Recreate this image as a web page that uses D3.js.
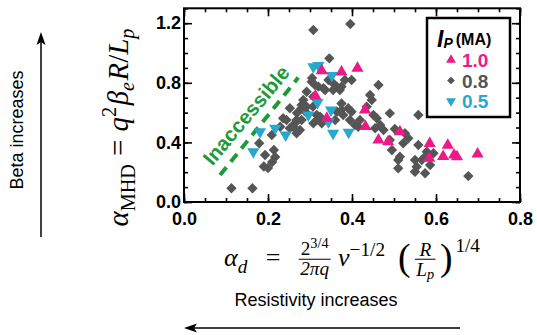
<!DOCTYPE html>
<html><head><meta charset="utf-8">
<script src="https://cdn.jsdelivr.net/npm/d3@7"></script>
<style>body{margin:0;background:#fff}svg{display:block}</style>
</head><body>
<svg id="c" width="537" height="335"></svg>
<script>
// ---------- data ----------
const xTickVals = [0.0, 0.2, 0.4, 0.6, 0.8];
const yTickVals = [0.0, 0.4, 0.8, 1.2];
const seriesNames = ["1.0", "0.8", "0.5"];
const ip10 = [[0.328,0.881],[0.375,0.872],[0.413,0.897],[0.313,0.711],[0.340,0.562],[0.431,0.617],[0.432,0.507],[0.463,0.416],[0.486,0.405],[0.514,0.472],[0.585,0.393],[0.584,0.293],[0.628,0.381],[0.617,0.305],[0.643,0.315],[0.650,0.304],[0.699,0.322]];
const ip05 = [[0.165,0.338],[0.181,0.472],[0.217,0.495],[0.242,0.450],[0.296,0.584],[0.308,0.908],[0.320,0.916],[0.318,0.668],[0.352,0.849],[0.350,0.617],[0.344,0.539],[0.355,0.461],[0.392,0.468]];
const ip08 = [[0.113,0.092],[0.163,0.092],
[0.179,0.394],[0.214,0.349],[0.193,0.315],[0.217,0.302],[0.210,0.268],[0.190,0.238],[0.200,0.228],
[0.209,0.450],[0.229,0.505],[0.236,0.562],[0.252,0.629],[0.260,0.505],[0.268,0.550],[0.244,0.550],[0.280,0.629],[0.284,0.685],[0.292,0.740],[0.276,0.483],[0.268,0.461],[0.252,0.495],[0.264,0.528],[0.280,0.550],[0.289,0.606],[0.269,0.597],
[0.304,0.807],[0.305,0.832],[0.312,0.785],[0.308,0.707],[0.280,0.651],[0.292,0.640],[0.307,0.640],[0.316,0.584],[0.316,0.550],[0.324,0.572],[0.308,0.528],[0.328,0.528],[0.320,0.774],[0.336,0.752],[0.344,0.819],[0.355,0.797],[0.332,0.763],[0.355,0.752],[0.364,0.774],[0.375,0.774],[0.371,0.752],[0.383,0.819],[0.399,0.819],[0.346,0.964],[0.308,1.154],[0.396,1.195],[0.364,0.606],[0.375,0.617],[0.399,0.606],[0.395,0.550],[0.360,0.550],[0.375,0.661],[0.391,0.629],[0.379,0.584],[0.407,0.517],
[0.463,0.785],[0.443,0.718],[0.447,0.685],[0.435,0.640],[0.419,0.550],[0.415,0.505],[0.451,0.584],[0.459,0.562],[0.467,0.517],[0.455,0.495],[0.475,0.483],[0.490,0.595],[0.558,0.584],[0.502,0.490],[0.526,0.461],[0.534,0.428],[0.522,0.394],[0.490,0.416],[0.495,0.349],[0.558,0.383],[0.578,0.338],[0.594,0.327],[0.574,0.304],[0.550,0.282],[0.566,0.282],[0.554,0.237],[0.510,0.282],[0.514,0.304],[0.510,0.226],[0.574,0.193],[0.586,0.248],[0.550,0.203],[0.677,0.174]];
const boundary = [[0.086,0.181],[0.272,0.835]];

// ---------- setup ----------
const PINK = "#ec1a86", GREY = "#555555", CYAN = "#27a8cc", GREEN = "#1f9a3a";
const svg = d3.select("#c");
const x = d3.scaleLinear([0, 0.8], [184, 520]);
const y = d3.scaleLinear([0, 1.3], [202, 8.3]);
const sans = "'Liberation Sans', Arial, Helvetica, sans-serif";
const serif = "'Liberation Serif', 'DejaVu Serif', serif";

// axes / ticks
const fmt = d3.format(".1f");
const xMinor = d3.range(0, 0.8001, 0.05), yMinor = d3.range(0, 1.3001, 0.1);
function styleAxis(g){ g.select(".domain").remove(); g.selectAll("line").attr("stroke","#000").attr("stroke-width",1.6); }
svg.append("g").attr("transform","translate(0,202)")
  .call(d3.axisBottom(x).tickValues(xMinor).tickSize(-4).tickFormat("")).call(styleAxis);
svg.append("g").attr("transform","translate(0,8.3)")
  .call(d3.axisTop(x).tickValues(xMinor).tickSize(-4).tickFormat("")).call(styleAxis);
svg.append("g").attr("transform","translate(184,0)")
  .call(d3.axisLeft(y).tickValues(yMinor).tickSize(-4).tickFormat("")).call(styleAxis);
svg.append("g").attr("transform","translate(520,0)")
  .call(d3.axisRight(y).tickValues(yMinor).tickSize(-4).tickFormat("")).call(styleAxis);
const xa = svg.append("g").attr("transform","translate(0,202)")
  .call(d3.axisBottom(x).tickValues(xTickVals).tickSize(-8).tickPadding(10).tickFormat(fmt)).call(styleAxis);
svg.append("g").attr("transform","translate(0,8.3)")
  .call(d3.axisTop(x).tickValues(xTickVals).tickSize(-8).tickFormat("")).call(styleAxis);
const ya = svg.append("g").attr("transform","translate(184,0)")
  .call(d3.axisLeft(y).tickValues(yTickVals).tickSize(-8).tickPadding(3).tickFormat(fmt)).call(styleAxis);
svg.append("g").attr("transform","translate(520,0)")
  .call(d3.axisRight(y).tickValues(yTickVals).tickSize(-8).tickFormat("")).call(styleAxis);
[xa, ya].forEach(a => a.selectAll("text").attr("font-family", sans).attr("font-weight","bold").attr("font-size",18).attr("fill","#000"));

svg.append("rect").attr("x",x(0)).attr("y",y(1.3)).attr("width",x(0.8)-x(0)).attr("height",y(0)-y(1.3))
  .attr("fill","none").attr("stroke","#000").attr("stroke-width",2);

// boundary annotation
svg.append("line").attr("x1",x(boundary[0][0])).attr("y1",y(boundary[0][1]))
  .attr("x2",x(boundary[1][0])).attr("y2",y(boundary[1][1]))
  .attr("stroke",GREEN).attr("stroke-width",4).attr("stroke-dasharray","10,7");
svg.append("text").attr("transform","translate(246,115) rotate(-50)")
  .attr("text-anchor","middle").attr("dominant-baseline","central")
  .attr("font-family",sans).attr("font-weight","bold").attr("font-size",20.5).attr("fill",GREEN)
  .text("Inaccessible");

// markers
const diamond = d3.symbol(d3.symbolSquare, 54);
const tri = d3.symbol(d3.symbolTriangle, 64);
svg.append("g").selectAll("path").data(ip08).join("path")
  .attr("d", diamond).attr("transform", d => `translate(${x(d[0])},${y(d[1])}) rotate(45)`).attr("fill", GREY);
svg.append("g").selectAll("path").data(ip05).join("path")
  .attr("d", tri).attr("transform", d => `translate(${x(d[0])},${y(d[1])}) rotate(180)`).attr("fill", CYAN);
svg.append("g").selectAll("path").data(ip10).join("path")
  .attr("d", tri).attr("transform", d => `translate(${x(d[0])},${y(d[1])})`).attr("fill", PINK);

// legend
const lg = svg.append("g");
lg.append("rect").attr("x",427).attr("y",18).attr("width",83).attr("height",99)
  .attr("fill","#fff").attr("stroke","#000").attr("stroke-width",2.5);
const lt = lg.append("text").attr("x",437).attr("y",47).attr("font-family",sans).attr("font-weight","bold");
lt.append("tspan").attr("font-size",23).attr("font-style","italic").text("I");
lt.append("tspan").attr("font-size",14).attr("font-style","italic").attr("dy",1).text("P");
lt.append("tspan").attr("font-size",16).attr("dx",3).attr("dy",-3).text("(MA)");
const legItems = [
  {name: seriesNames[0], color: PINK, sym: d3.symbol(d3.symbolTriangle, 42), rot: 0},
  {name: seriesNames[1], color: GREY, sym: d3.symbol(d3.symbolSquare, 30), rot: 45},
  {name: seriesNames[2], color: CYAN, sym: d3.symbol(d3.symbolTriangle, 42), rot: 180}];
legItems.forEach((it, i) => {
  const cy = 60 + i*20.5;
  lg.append("path").attr("d", it.sym).attr("transform", `translate(451,${cy}) rotate(${it.rot})`).attr("fill", it.color);
  lg.append("text").attr("x",462).attr("y",cy+7).attr("font-family",sans).attr("font-weight","bold")
    .attr("font-size",19).attr("fill",it.color).text(it.name);
});

// ---------- math helpers ----------
function put(g, px, py, s, size, it){
  const t = g.append("text").attr("x",px).attr("y",py).attr("font-family",serif).attr("font-size",size)
    .attr("font-style", it ? "italic" : "normal").attr("fill","#000").text(s);
  return t.node().getComputedTextLength();
}
function measure(s, size, it){ const g = svg.append("g"); const w = put(g,0,0,s,size,it); g.remove(); return w; }

// y-axis math label: laid out along the text direction, then rotated
function buildYLabel(FY){
  const g = svg.append("g");
  let c = 0;
  c += put(g, c, 0, "α", FY, 1);
  c += put(g, c, 0.25*FY, "MHD", 0.7*FY, 0) + 0.28*FY;
  c += put(g, c, 0, "=", FY, 0) + 0.28*FY;
  c += put(g, c, 0, "q", FY, 1);
  c += put(g, c, -0.42*FY, "2", 0.7*FY, 0) + 0.05*FY;
  c += put(g, c, 0, "β", FY, 1);
  c += put(g, c, 0.22*FY, "e", 0.7*FY, 1) + 0.05*FY;
  c += put(g, c, 0, "R", FY, 1);
  c += put(g, c, 0, "/", FY, 0);
  c += put(g, c, 0, "L", FY, 1);
  c += put(g, c, 0.22*FY, "p", 0.7*FY, 1);
  return [g, c];
}
{
  let [g, w] = buildYLabel(24);
  g.remove();
  const FY = 24*198/w;
  [g, w] = buildYLabel(FY);
  g.attr("transform", `translate(128,${127.5 + w/2}) rotate(-90)`);
}

// x-axis math label
{
  const F = 26, S = 0.74;
  const xl = svg.append("g");
  const wA = measure("α",F,1), wd = measure("d",S*F,1), wEq = measure("=",F,0);
  const w2 = measure("2",S*F,0), w34 = measure("3/4",0.55*F,0), wDen = measure("2πq",S*F,1);
  const fw1 = Math.max(w2+w34, wDen) + 0.12*F;
  const wNu = measure("ν",F,1), wM12 = measure("−1/2",S*F,0);
  const PS = 1.45*F;
  const wPar = measure("(",PS,0);
  const wR = measure("R",S*F,1), wL = measure("L",S*F,1), wp = measure("p",0.55*F,1);
  const fw2 = Math.max(wR, wL+wp) + 0.1*F;
  const w14 = measure("1/4",S*F,0);
  const base = wA+wd+wEq+fw1+wNu+wM12+2*wPar+fw2+w14;
  const weights = [1.0,1.0,0.4,0.7,0.25,0.25,0.15];
  const extra = Math.max(0, (256 - base) / weights.reduce((a,b)=>a+b,0));
  const gp = weights.map(k => k*extra);
  let cx = 0;
  put(xl, cx, 0, "α", F, 1); cx += wA;
  put(xl, cx, 0.25*F, "d", S*F, 1); cx += wd + gp[0];
  put(xl, cx, 0, "=", F, 0); cx += wEq + gp[1];
  put(xl, cx + (fw1-w2-w34)/2, -0.42*F, "2", S*F, 0);
  put(xl, cx + (fw1-w2-w34)/2 + w2, -0.68*F, "3/4", 0.55*F, 0);
  put(xl, cx + (fw1-wDen)/2, 0.36*F, "2πq", S*F, 1);
  xl.append("line").attr("x1",cx).attr("x2",cx+fw1).attr("y1",-0.26*F).attr("y2",-0.26*F).attr("stroke","#000").attr("stroke-width",1);
  cx += fw1 + gp[2];
  put(xl, cx, 0, "ν", F, 1); cx += wNu;
  put(xl, cx, -0.38*F, "−1/2", S*F, 0); cx += wM12 + gp[3];
  put(xl, cx, 0.17*F, "(", PS, 0); cx += wPar + gp[4];
  put(xl, cx + (fw2-wR)/2, -0.4*F, "R", S*F, 1);
  put(xl, cx + (fw2-wL-wp)/2, 0.38*F, "L", S*F, 1);
  put(xl, cx + (fw2-wL-wp)/2 + wL, 0.5*F, "p", 0.55*F, 1);
  xl.append("line").attr("x1",cx).attr("x2",cx+fw2).attr("y1",-0.26*F).attr("y2",-0.26*F).attr("stroke","#000").attr("stroke-width",1);
  cx += fw2 + gp[5];
  put(xl, cx, 0.17*F, ")", PS, 0); cx += wPar + gp[6];
  put(xl, cx, -0.52*F, "1/4", S*F, 0);
  xl.attr("transform", "translate(224,266)");
}

// side annotations
svg.append("text").attr("transform","translate(23,130) rotate(-90)").attr("text-anchor","middle")
  .attr("font-family",sans).attr("font-size",18).attr("fill","#000").text("Beta increases");
svg.append("text").attr("x",316).attr("y",306).attr("text-anchor","middle")
  .attr("font-family",sans).attr("font-size",18).attr("fill","#000").text("Resistivity increases");
// arrows
svg.append("line").attr("x1",41).attr("y1",237).attr("x2",41).attr("y2",42).attr("stroke","#000").attr("stroke-width",1.5);
svg.append("path").attr("d","M41,32 L45.5,45 L41,42 L36.5,45 Z").attr("fill","#000");
svg.append("line").attr("x1",460).attr("y1",328).attr("x2",194).attr("y2",328).attr("stroke","#000").attr("stroke-width",1.5);
svg.append("path").attr("d","M184,328 L197,323.5 L194,328 L197,332.5 Z").attr("fill","#000");
</script>
</body></html>
